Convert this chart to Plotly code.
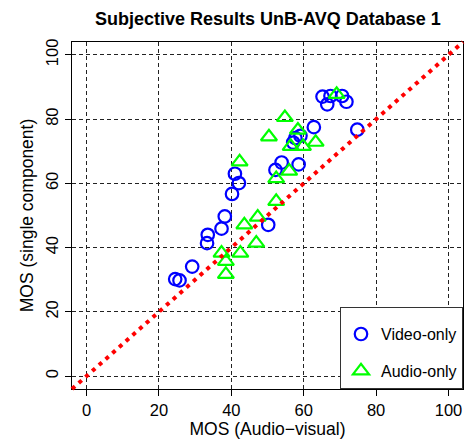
import plotly.graph_objects as go

# Subjective scores
video_x = [24.5, 25.7, 29.2, 33.3, 33.5, 37.3, 38.2, 40.2, 41.0, 42.1, 50.2, 52.2,
           53.9, 58.6, 57.1, 57.7, 59.1, 62.8, 65.2, 66.5, 67.4, 70.6, 71.8, 74.8]
video_y = [30.2, 29.8, 34.1, 41.4, 44.0, 45.9, 49.7, 56.7, 63.0, 60.1, 47.1, 64.2,
           66.5, 65.9, 72.7, 74.1, 74.8, 77.5, 87.0, 84.6, 87.2, 87.2, 85.4, 76.7]

audio_x = [42.3, 54.8, 50.4, 58.4, 56.0, 52.4, 52.4, 47.3, 43.6, 46.9, 42.5, 37.3,
           38.5, 38.5, 69.1, 56.4, 59.8, 63.3]
audio_y = [66.7, 80.5, 74.5, 76.6, 63.8, 61.5, 54.4, 49.5, 47.1, 41.4, 38.3, 38.3,
           35.7, 31.7, 87.7, 71.5, 71.5, 72.8]

x_ticks = [0, 20, 40, 60, 80, 100]
y_ticks = [0, 20, 40, 60, 80, 100]
axis_range = [-4, 104]

title_text = "Subjective Results UnB-AVQ Database 1"
x_title = "MOS (Audio\u2212visual)"
y_title = "MOS (single component)"

FONT = "Liberation Sans, Arial, Helvetica, sans-serif"

fig = go.Figure()
fig.add_trace(go.Scatter(
    x=video_x, y=video_y, mode="markers", name="Video-only",
    legendgroup="v",
    marker=dict(symbol="circle-open", size=12.5, color="#0000FF",
                line=dict(width=2.2, color="#0000FF")),
))
fig.add_trace(go.Scatter(
    x=audio_x, y=audio_y, mode="markers", name="Audio-only",
    legendgroup="a",
    marker=dict(symbol="triangle-up-open", size=14, color="#00FF00",
                line=dict(width=2.2, color="#00FF00")),
))

# identity reference line y = x across the whole plotting region
fig.add_shape(type="line", xref="paper", yref="paper", x0=0, y0=0, x1=1, y1=1,
              line=dict(color="#FF0000", width=4, dash="4px,5px"), layer="above")

axis_common = dict(
    range=axis_range, showgrid=True, gridcolor="#222222", gridwidth=1,
    griddash="4px,3px", zeroline=False, showline=True, linecolor="black",
    linewidth=1, mirror=True, ticks="outside", ticklen=6, tickcolor="black",
    tickfont=dict(family=FONT, size=16.5, color="black"),
)

fig.update_layout(
    width=470, height=443,
    margin=dict(l=72, r=7, t=42, b=54, autoexpand=False),
    paper_bgcolor="white", plot_bgcolor="white",
    title=dict(text=title_text, x=0.57, xref="container", xanchor="center",
               y=1 - 18.5 / 443, yanchor="middle",
               font=dict(family=FONT, size=18, color="black", weight="bold")),
    xaxis=dict(axis_common, tickvals=x_ticks,
               title=dict(text=x_title, standoff=3,
                          font=dict(family=FONT, size=17.5, color="black"))),
    yaxis=dict(axis_common, tickvals=y_ticks, tickangle=-90,
               title=dict(text=y_title, standoff=5,
                          font=dict(family=FONT, size=17.5, color="black"))),
    showlegend=True,
    legend=dict(x=1, xanchor="right", y=0, yanchor="bottom",
                bgcolor="white", bordercolor="#333333", borderwidth=1,
                font=dict(family=FONT, size=16, color="black"),
                title=dict(text=" ", font=dict(size=7)),
                tracegroupgap=13, itemwidth=30),
)

fig.write_html("out.html")
